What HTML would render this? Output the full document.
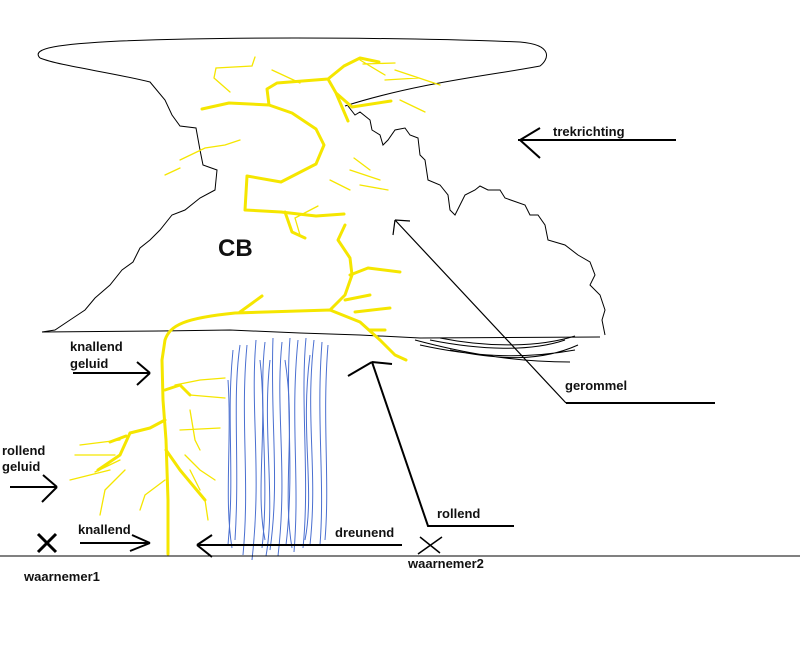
<!DOCTYPE html>
<html><head><meta charset="utf-8"><style>
html,body{margin:0;padding:0;background:#fff;}
svg{display:block}
text{font-family:"Liberation Sans",sans-serif;font-weight:bold;font-size:13px;fill:#111}
</style></head><body>
<svg width="800" height="649" viewBox="0 0 800 649" xmlns="http://www.w3.org/2000/svg">
<rect width="800" height="649" fill="#fff"/>
<!-- cloud outline -->
<g fill="none" stroke="#000" stroke-width="1">
<path d="M40,58 C30,48 60,44 120,41 C250,36 420,38 520,42 C555,45 548,60 540,66 C500,74 420,82 345,106"/>
<path d="M40,58 C60,66 110,72 150,82 L165,100 L172,115 L180,126 L196,128 L200,150 L203,165 L217,170 L215,190 L200,198 L185,210 L172,215 L160,230 L150,240 L140,248 L133,262 L122,270 L110,285 L95,298 L85,310 L70,320 L55,330 L42,332"/>
<path d="M42,332 L160,331 L230,330 L300,333 L360,335 L420,338 L600,337"/>
<path d="M348,106 L355,115 L360,112 L370,120 L372,130 L380,135 L383,145 L388,140 L395,130 L405,128 L410,135 L418,138 L420,155 L425,160 L428,180 L440,185 L448,195 L450,210 L455,215 L465,195 L475,190 L480,186 L488,190 L500,190 L505,198 L525,205 L530,215 L538,215 L545,225 L548,240 L565,245 L578,255 L590,262 L595,275 L590,285 L600,295 L605,310 L602,320 L605,335"/>
<path d="M415,340 C460,352 510,362 570,362 M420,345 C470,356 520,360 575,350 M430,340 C480,350 530,352 565,340 M440,338 C490,348 540,347 575,336 M450,350 C500,360 540,362 578,345"/>
</g>
<!-- rain -->
<g fill="none" stroke="#4a6fd0" stroke-width="1">
<path d="M240,345 C232,400 240,460 235,540"/><path d="M247,345 C240,420 250,480 243,555"/>
<path d="M256,340 C250,410 262,470 252,560"/><path d="M265,342 C258,400 270,480 262,548"/>
<path d="M273,338 C270,420 280,480 270,550"/><path d="M282,342 C275,410 288,470 278,556"/>
<path d="M290,338 C285,400 295,470 286,545"/><path d="M298,340 C290,420 300,480 294,552"/>
<path d="M306,338 C300,400 310,480 303,548"/><path d="M314,340 C305,420 318,470 310,545"/>
<path d="M322,342 C316,420 325,480 320,545"/><path d="M328,345 C322,420 330,480 325,540"/>
<path d="M233,350 C226,420 235,470 228,545"/><path d="M260,360 C268,430 255,490 265,540"/>
<path d="M285,360 C296,430 282,490 292,548"/><path d="M310,355 C300,430 315,490 305,540"/>
<path d="M228,380 C232,440 224,500 232,548"/><path d="M270,360 C262,430 276,500 266,556"/>
</g>
<!-- lightning thick -->
<g fill="none" stroke="#f5e600" stroke-width="3" stroke-linecap="round" stroke-linejoin="round">
<path d="M168,554 L168,500 L166,440 L163,400 L162,360 L165,340 C170,325 185,318 235,313 L330,310 L360,322 L380,340 L395,355 L406,360"/>
<path d="M330,310 L345,295 L352,275 L350,258 L338,240 L345,225"/>
<path d="M245,210 L281,212 L316,216 L344,214 M245,210 L247,176 L281,182 L316,164 L324,145 L316,129 L292,113 L269,105 L267,89 L277,83 L328,79 L336,93 L348,121 M269,105 L229,103 L202,109 M328,79 L344,66 L360,58 L379,62 M336,93 L352,107 L391,101"/>
<path d="M165,390 L180,385 L190,395 M165,420 L150,428 L130,433 L120,455 L98,470 M126,436 L110,442 M166,450 L180,470 L205,500 M285,212 L292,232 L305,238"/>
<path d="M350,275 L368,268 L400,272 M345,300 L370,295 M355,312 L390,308 M370,330 L385,330 M240,312 L262,296"/>
</g>
<!-- lightning thin -->
<g fill="none" stroke="#f5e600" stroke-width="1.3" stroke-linecap="round">
<path d="M214,78 L216,68 L252,66 L255,57 M214,78 L230,92 M272,70 L300,83 M363,64 L395,63 M360,60 L385,75 M385,80 L418,78 M395,70 L440,85 M400,100 L425,112 M180,160 L205,148 L225,145 L240,140 M165,175 L180,168 M354,158 L370,170 M350,170 L380,180 M360,185 L388,190 M330,180 L350,190 M300,235 L295,218 L318,206 M175,385 L200,380 L225,378 M190,395 L225,398 M190,410 L195,440 L200,450 M180,430 L220,428 M185,455 L200,470 L215,480 M190,470 L200,490 M205,500 L208,520 M120,440 L80,445 M115,455 L75,455 M120,460 L95,472 M110,470 L70,480 M125,470 L105,490 L100,515 M165,480 L145,495 L140,510"/>
</g>
<!-- arrows -->
<g fill="none" stroke="#000" stroke-width="2">
<path d="M518,140 L676,140 M540,128 L520,140 L540,158"/>
<path d="M566,403 L715,403"/>
<path d="M73,373 L150,373 M137,362 L150,373 M137,385 L150,373"/>
<path d="M10,487 L57,487 M43,475 L57,487 M42,502 L57,487"/>
<path d="M80,543 L150,543 M132,535 L150,543 M130,551 L150,543"/>
<path d="M197,545 L402,545 M212,535 L197,545 M212,557 L197,545"/>
<path d="M514,526 L428,526 L372,362 M372,362 L348,376 M372,362 L392,364"/>
<path d="M38,534 L56,552 M56,534 L38,552" stroke-width="3"/>
<path d="M420,537 L440,553 M442,537 L418,554" stroke-width="1.5"/>
</g>
<g fill="none" stroke="#000" stroke-width="1.2">
<path d="M395,220 L566,403 M395,220 L393,235 M395,220 L410,221"/>
</g>
<line x1="0" y1="556" x2="800" y2="556" stroke="#000" stroke-width="1"/>
<!-- labels -->
<text x="218" y="256" style="font-size:24px">CB</text>
<text x="553" y="136">trekrichting</text>
<text x="565" y="390">gerommel</text>
<text x="70" y="351">knallend</text>
<text x="70" y="368">geluid</text>
<text x="2" y="455">rollend</text>
<text x="2" y="471">geluid</text>
<text x="78" y="534">knallend</text>
<text x="335" y="537">dreunend</text>
<text x="437" y="518">rollend</text>
<text x="24" y="581">waarnemer1</text>
<text x="408" y="568">waarnemer2</text>
</svg>
</body></html>
